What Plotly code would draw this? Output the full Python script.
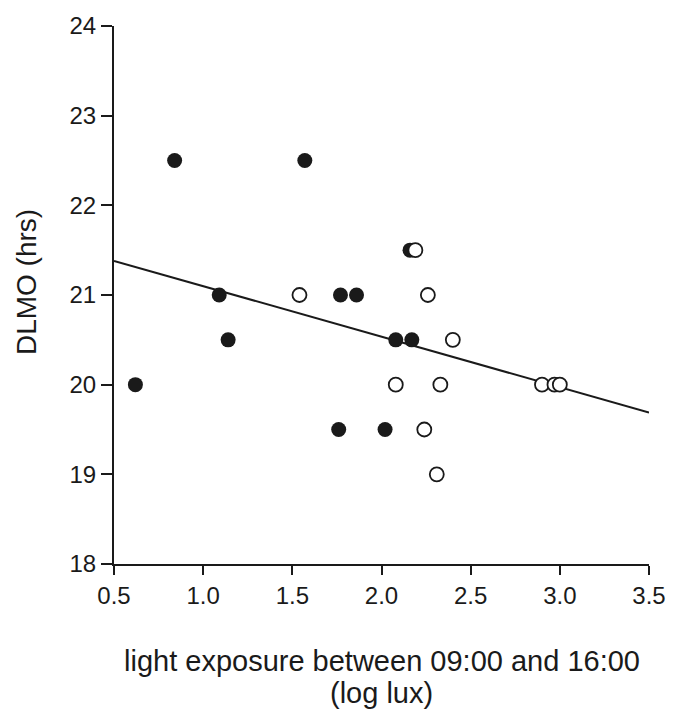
import plotly.graph_objects as go

# Light exposure (log lux) vs DLMO (hrs)
filled_x = [0.62, 0.84, 1.09, 1.14, 1.57, 1.77, 1.86, 1.76, 2.02, 2.08, 2.17, 2.16]
filled_y = [20.0, 22.5, 21.0, 20.5, 22.5, 21.0, 21.0, 19.5, 19.5, 20.5, 20.5, 21.5]

open_x = [1.54, 2.19, 2.26, 2.40, 2.08, 2.33, 2.24, 2.31, 2.90, 2.97, 3.00]
open_y = [21.0, 21.5, 21.0, 20.5, 20.0, 20.0, 19.5, 19.0, 20.0, 20.0, 20.0]

# Regression line end points
fit_x = [0.5, 3.5]
fit_y = [21.38, 19.69]

x_ticks = [0.5, 1.0, 1.5, 2.0, 2.5, 3.0, 3.5]
x_tick_text = ["0.5", "1.0", "1.5", "2.0", "2.5", "3.0", "3.5"]
y_ticks = [18, 19, 20, 21, 22, 23, 24]

x_title_lines = ["light exposure between 09:00 and 16:00", "(log lux)"]

FONT = "Liberation Sans, Arial, sans-serif"
INK = "#1a1a1a"

fig = go.Figure()

fig.add_trace(go.Scatter(
    x=fit_x, y=fit_y, mode="lines",
    line=dict(color=INK, width=2), showlegend=False, hoverinfo="skip",
))

fig.add_trace(go.Scatter(
    x=filled_x, y=filled_y, mode="markers",
    marker=dict(symbol="circle", size=15, color=INK, line=dict(width=0)),
    showlegend=False,
))

fig.add_trace(go.Scatter(
    x=open_x, y=open_y, mode="markers",
    marker=dict(symbol="circle", size=14, color="white", line=dict(color=INK, width=1.8)),
    showlegend=False,
))

fig.update_layout(
    width=678, height=719,
    margin=dict(l=114, r=23, t=22, b=155),
    paper_bgcolor="white", plot_bgcolor="white",
    font=dict(family=FONT, color=INK),
    xaxis=dict(
        range=[0.5, 3.5], tickvals=x_ticks, ticktext=x_tick_text,
        showgrid=False, zeroline=False,
        showline=True, linecolor=INK, linewidth=2,
        ticks="outside", ticklen=9, tickwidth=2, tickcolor=INK,
        tickfont=dict(size=24, family=FONT, color=INK),
    ),
    yaxis=dict(
        range=[18, 24], tickvals=y_ticks,
        showgrid=False, zeroline=False,
        showline=True, linecolor=INK, linewidth=2,
        ticks="outside", ticklen=11, tickwidth=2, tickcolor=INK,
        tickfont=dict(size=24, family=FONT, color=INK),
    ),
)

fig.add_annotation(
    text="DLMO (hrs)",
    xref="paper", yref="paper", x=-0.1645, y=0.524,
    xanchor="center", yanchor="middle", textangle=-90, showarrow=False,
    font=dict(size=28, family=FONT, color=INK),
)

# Two-line x-axis title, each line placed on its own
for line_text, y_pos in zip(x_title_lines, [-0.1808, -0.2399]):
    fig.add_annotation(
        text=line_text,
        xref="paper", yref="paper", x=0.5, y=y_pos,
        xanchor="center", yanchor="middle", showarrow=False,
        font=dict(size=29, family=FONT, color=INK),
    )

fig.write_html("out.html")
